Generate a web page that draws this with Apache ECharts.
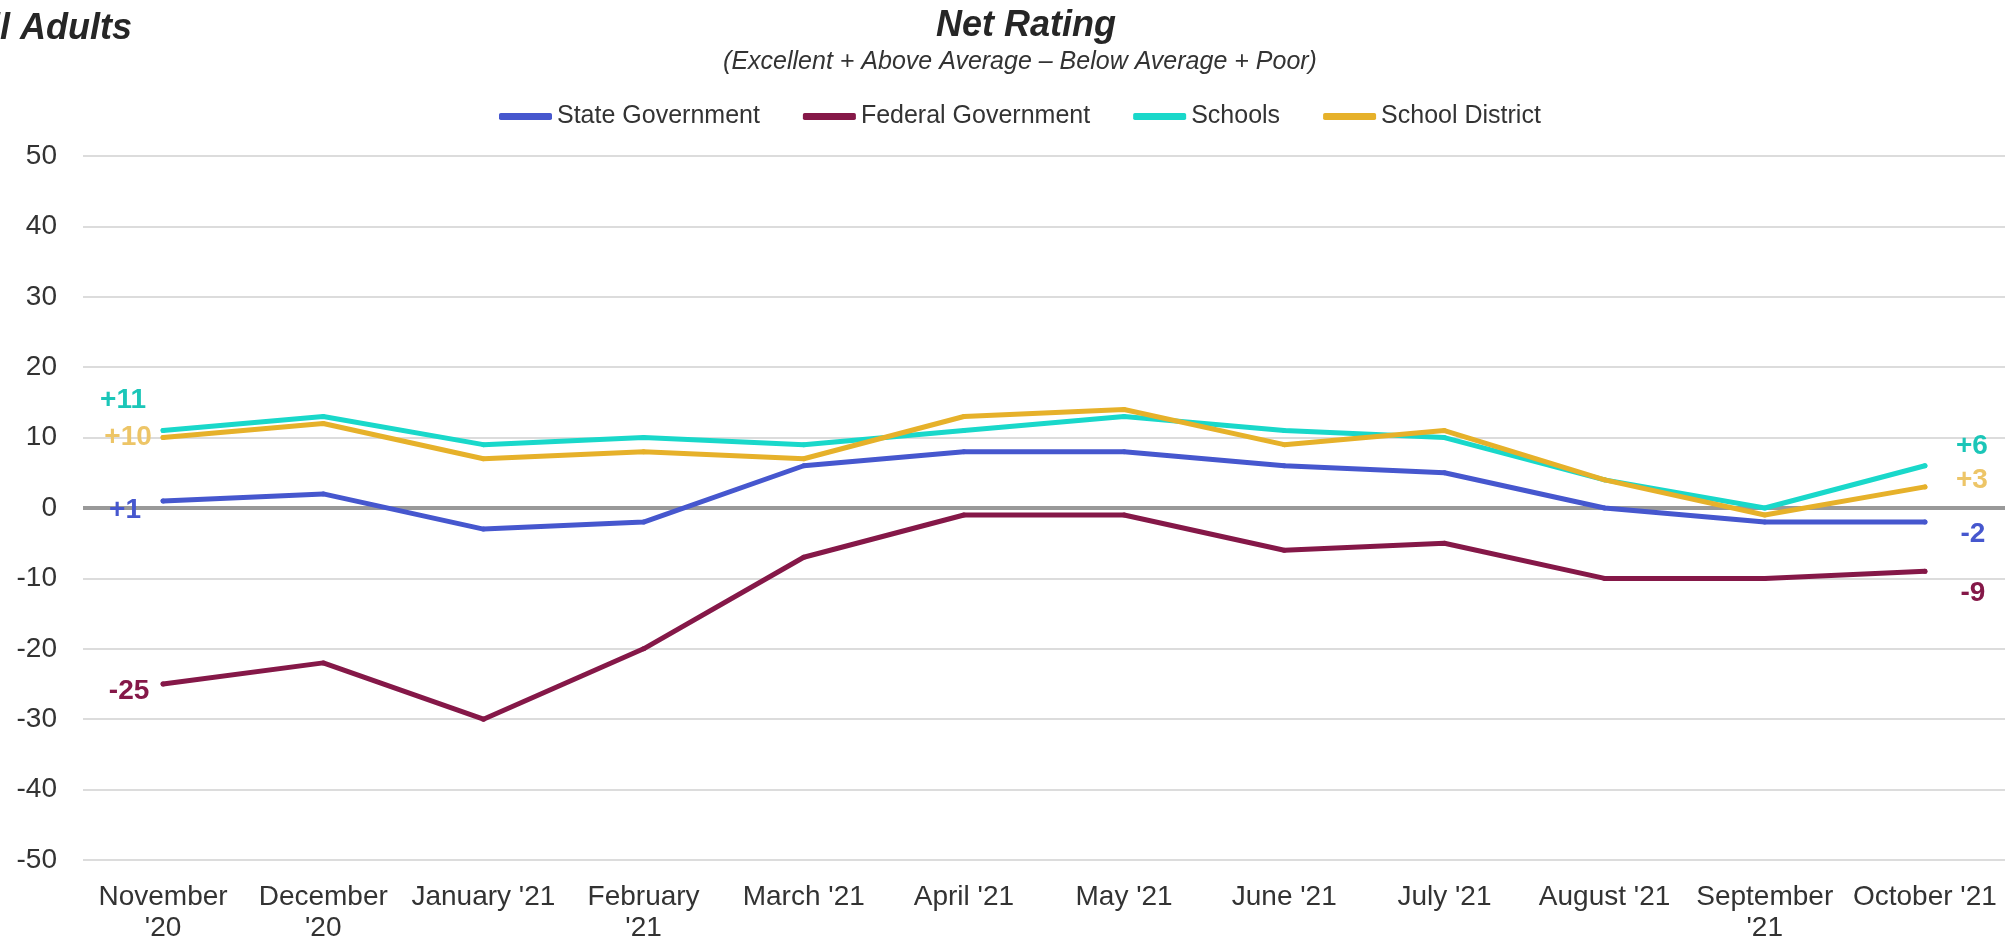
<!DOCTYPE html>
<html>
<head>
<meta charset="utf-8">
<script src="https://cdn.jsdelivr.net/npm/echarts@6/dist/echarts.min.js"></script>
<style>
  html, body { margin: 0; padding: 0; background: #fff; }
  #chart { width: 2005px; height: 944px; }
</style>
</head>
<body>
<div id="chart"></div>
<script>
// 月份
const months = ["November '20", "December '20", "January '21", "February '21", "March '21", "April '21",
  "May '21", "June '21", "July '21", "August '21", "September '21", "October '21"]

// 各系列数值
const stateGov = [1, 2, -3, -2, 6, 8, 8, 6, 5, 0, -2, -2]
const federalGov = [-25, -22, -30, -20, -7, -1, -1, -6, -5, -10, -10, -9]
const schools = [11, 13, 9, 10, 9, 11, 13, 11, 10, 4, 0, 6]
const schoolDistrict = [10, 12, 7, 8, 7, 13, 14, 9, 11, 4, -1, 3]

// y 轴刻度
const yMin = -50
const yMax = 50
const yStep = 10

const FONT = "'Liberation Sans', Arial, sans-serif"

const seriesDefs = [
  { name: 'State Government', data: stateGov, color: '#4657CE', labelColor: '#4657CE', offs: [[-38, 9], [48, 12]] },
  { name: 'Federal Government', data: federalGov, color: '#851848', labelColor: '#851848', offs: [[-34, 7], [48, 22]] },
  { name: 'Schools', data: schools, color: '#19D8CA', labelColor: '#1BC6B8', offs: [[-40, -30], [47, -19]] },
  { name: 'School District', data: schoolDistrict, color: '#E6B12A', labelColor: '#EDC567', offs: [[-35, 0], [47, -7]] }
]

const fmt = v => (v > 0 ? '+' + v : String(v))

// 只在首尾两点显示标签
const buildData = (def) => def.data.map((v, i) => {
  const last = def.data.length - 1
  if (i !== 0 && i !== last) return v
  return {
    value: v,
    label: {
      show: true,
      position: 'inside',
      offset: i === 0 ? def.offs[0] : def.offs[1],
      formatter: fmt(v),
      color: def.labelColor,
      fontSize: 28,
      fontWeight: 'bold',
      fontFamily: FONT
    }
  }
})

const chart = echarts.init(document.getElementById('chart'))

const series = seriesDefs.map((def, idx) => {
  const s = {
    name: def.name,
    type: 'line',
    data: buildData(def),
    symbol: 'circle',
    symbolSize: 5,
    showSymbol: true,
    itemStyle: { color: def.color },
    lineStyle: { color: def.color, width: 5, cap: 'round', join: 'round' },
    label: { show: false },
    z: 3 + idx,
    animation: false
  }
  if (idx === 0) {
    // 零线
    s.markLine = {
      silent: true,
      symbol: 'none',
      label: { show: false },
      lineStyle: { color: '#999999', width: 4, type: 'solid' },
      data: [{ yAxis: 0 }],
      z: 1
    }
  }
  return s
})

chart.setOption({
  backgroundColor: '#ffffff',
  animation: false,
  graphic: [
    {
      type: 'text', x: 132, y: 29,
      style: { text: 'All Adults', textAlign: 'right', textVerticalAlign: 'middle',
        font: 'italic bold 36px ' + FONT, fill: '#262626' }
    },
    {
      type: 'text', x: 1026, y: 26,
      style: { text: 'Net Rating', textAlign: 'center', textVerticalAlign: 'middle',
        font: 'italic bold 36px ' + FONT, fill: '#262626' }
    },
    {
      type: 'text', x: 1020, y: 62,
      style: { text: '(Excellent + Above Average \u2013 Below Average + Poor)', textAlign: 'center',
        textVerticalAlign: 'middle', font: 'italic 25px ' + FONT, fill: '#333333' }
    }
  ],
  legend: {
    left: 499,
    top: 104,
    padding: 0,
    itemGap: 43,
    itemWidth: 53,
    itemHeight: 7,
    icon: 'roundRect',
    textStyle: { fontSize: 25, color: '#333333', fontFamily: FONT },
    data: seriesDefs.map(d => d.name)
  },
  grid: { left: 83, right: 0, top: 156, bottom: 78, containLabel: false },
  xAxis: {
    type: 'category',
    data: months,
    boundaryGap: true,
    axisLine: { show: false, onZero: false },
    axisTick: { show: false },
    axisLabel: {
      interval: 0,
      margin: 22,
      fontSize: 28,
      lineHeight: 31,
      color: '#333333',
      fontFamily: FONT,
      formatter: name => (name.length > 11 ? name.replace(" '", "\n'") : name)
    },
    splitLine: { show: false }
  },
  yAxis: {
    type: 'value',
    min: yMin,
    max: yMax,
    interval: yStep,
    axisLine: { show: false },
    axisTick: { show: false },
    axisLabel: { fontSize: 28, color: '#333333', margin: 26, fontFamily: FONT },
    splitLine: { lineStyle: { color: '#DCDCDC', width: 2 } }
  },
  series: series
})
</script>
</body>
</html>
